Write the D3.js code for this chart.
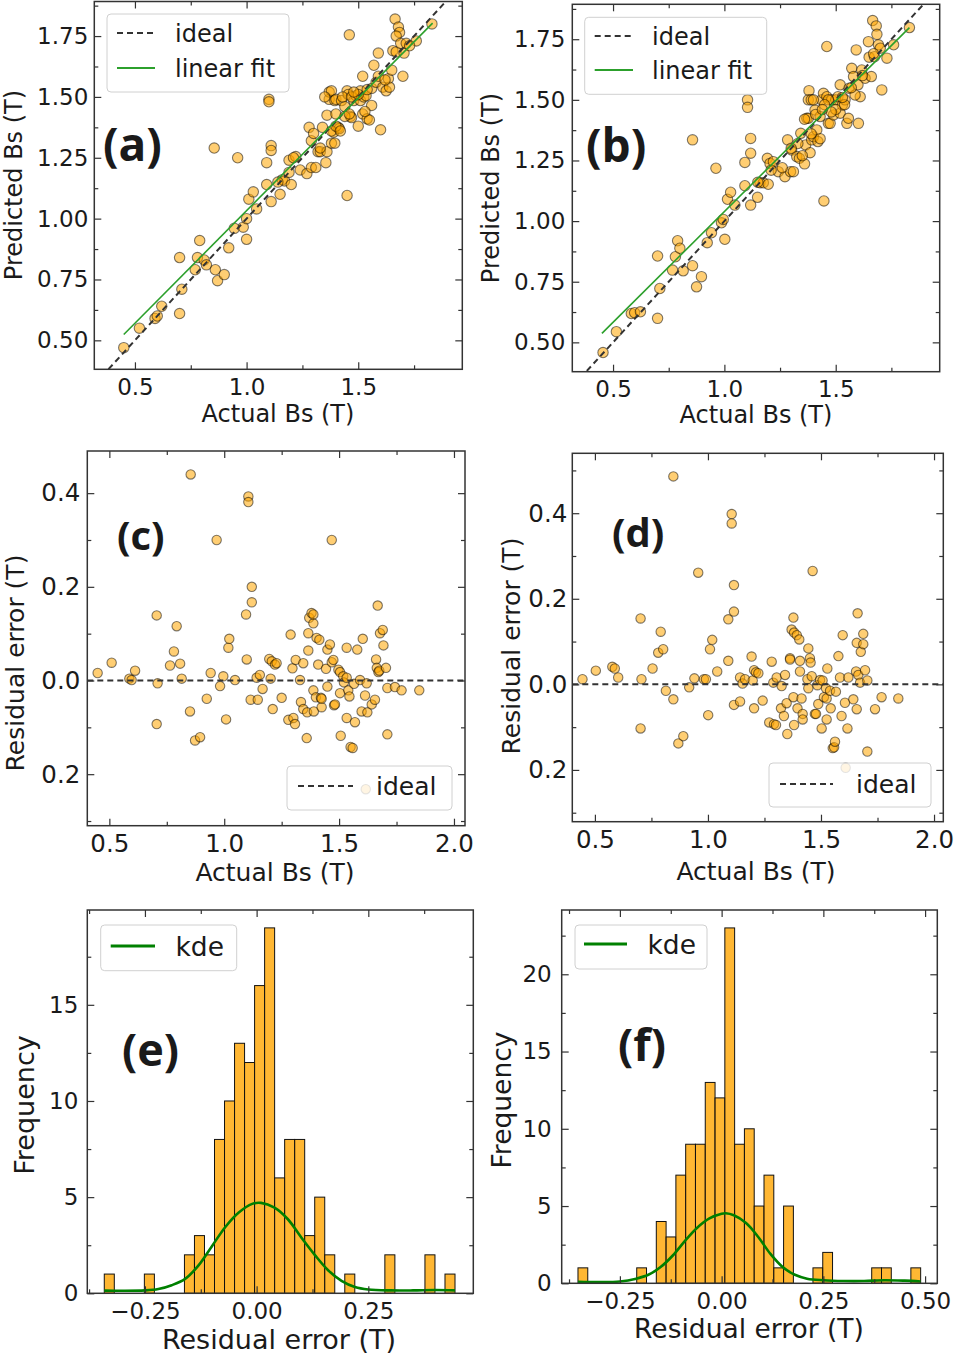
<!DOCTYPE html>
<html><head><meta charset="utf-8">
<script src="https://cdnjs.cloudflare.com/ajax/libs/d3/7.8.5/d3.min.js"></script>
<style>body{margin:0;background:#fff} svg text{font-family:"DejaVu Sans",sans-serif;fill:#1a1a1a}</style>
</head><body><script>
// ---------------- DATA ----------------
// (a) actual vs predicted
const actualA=[0.45,0.52,0.59,0.60,0.62,0.70,0.70,0.71,0.77,0.78,0.79,0.81,0.82,0.855,0.86,0.87,0.90,0.92,0.945,0.96,0.985,1.00,1.00,1.01,1.03,1.045,1.09,1.09,1.10,1.10,1.11,1.11,1.11,1.15,1.16,1.17,1.19,1.20,1.19,1.22,1.24,1.27,1.28,1.29,1.29,1.31,1.30,1.32,1.33,1.34,1.355,1.36,1.36,1.37,1.37,1.38,1.38,1.39,1.395,1.40,1.41,1.415,1.40,1.425,1.44,1.45,1.45,1.455,1.46,1.465,1.47,1.48,1.49,1.50,1.51,1.51,1.52,1.525,1.535,1.54,1.55,1.52,1.56,1.56,1.57,1.58,1.59,1.59,1.60,1.61,1.625,1.635,1.65,1.655,1.665,1.67,1.68,1.685,1.67,1.69,1.70,1.705,1.715,1.76,1.83,1.73,1.395,1.64,1.43,1.47,1.50,1.44,1.46,1.54,1.62,1.38,1.40,1.42,1.35,1.48,1.53,1.33,1.21,1.14];
const predA=[0.47,0.55,0.59,0.60,0.64,0.61,0.84,0.71,0.79,0.84,0.91,0.83,0.81,1.29,0.79,0.745,0.77,0.88,0.96,1.25,0.965,1.00,0.915,1.08,1.11,1.04,1.14,1.23,1.49,1.48,1.30,1.28,1.07,1.10,1.16,1.155,1.24,1.14,1.19,1.255,1.20,1.185,1.375,1.32,1.21,1.21,1.35,1.275,1.275,1.375,1.23,1.275,1.425,1.49,1.52,1.525,1.31,1.355,1.485,1.49,1.375,1.37,1.43,1.485,1.46,1.095,1.525,1.51,1.755,1.42,1.415,1.485,1.505,1.38,1.485,1.525,1.43,1.50,1.505,1.41,1.405,1.585,1.465,1.535,1.63,1.56,1.68,1.585,1.365,1.54,1.525,1.575,1.61,1.69,1.82,1.685,1.787,1.765,1.75,1.72,1.585,1.68,1.72,1.73,1.80,1.71,1.31,1.54,1.50,1.50,1.51,1.42,1.43,1.53,1.57,1.36,1.38,1.36,1.50,1.52,1.44,1.29,1.25,1.15];
const fitXA=[0.45,1.833], fitYA=[0.524,1.803];
// (b) actual vs predicted
const actualB=[0.455,0.515,0.582,0.597,0.623,0.70,0.70,0.71,0.767,0.78,0.79,0.80,0.815,0.857,0.857,0.875,0.897,0.923,0.942,0.962,0.987,0.995,1.002,1.014,1.028,1.047,1.092,1.092,1.104,1.104,1.118,1.118,1.118,1.149,1.16,1.175,1.197,1.193,1.205,1.22,1.242,1.272,1.284,1.297,1.31,1.302,1.325,1.337,1.343,1.36,1.365,1.37,1.38,1.377,1.39,1.385,1.392,1.40,1.407,1.415,1.42,1.43,1.437,1.445,1.447,1.46,1.46,1.467,1.475,1.482,1.49,1.50,1.51,1.52,1.52,1.53,1.542,1.55,1.557,1.56,1.572,1.58,1.592,1.60,1.602,1.61,1.617,1.632,1.647,1.65,1.66,1.666,1.674,1.682,1.685,1.692,1.70,1.707,1.73,1.76,1.831,1.587,1.467,1.377,1.36,1.40,1.45,1.50,1.54,1.43,1.33,1.30,1.21,1.15,1.62,1.67,1.48,1.39,1.53,1.57,1.41,1.35,1.44,1.26];
const predB=[0.458,0.544,0.619,0.622,0.626,0.599,0.856,0.722,0.798,0.853,0.919,0.888,0.795,1.335,0.816,0.729,0.771,0.911,0.952,1.218,0.993,1.007,0.925,1.09,1.119,1.066,1.146,1.242,1.50,1.469,1.341,1.28,1.066,1.098,1.158,1.158,1.152,1.259,1.238,1.245,1.204,1.183,1.335,1.204,1.204,1.293,1.266,1.259,1.362,1.236,1.314,1.424,1.538,1.50,1.50,1.282,1.335,1.348,1.458,1.376,1.328,1.431,1.50,1.527,1.083,1.72,1.513,1.403,1.403,1.50,1.438,1.50,1.513,1.445,1.562,1.479,1.50,1.403,1.424,1.548,1.63,1.596,1.706,1.562,1.403,1.513,1.623,1.589,1.74,1.676,1.596,1.827,1.678,1.805,1.77,1.727,1.713,1.541,1.672,1.727,1.798,1.52,1.50,1.424,1.42,1.50,1.48,1.46,1.48,1.34,1.32,1.30,1.21,1.16,1.60,1.69,1.45,1.36,1.51,1.55,1.44,1.27,1.46,1.22];
const fitXB=[0.45,1.831], fitYB=[0.537,1.798];
// ideal line y = x (x and y endpoints)
const idealLine=[0.2,2.1];
// (c) actual vs residual
const actualC=[0.449,0.51,0.587,0.597,0.612,0.706,0.71,0.706,0.764,0.793,0.781,0.808,0.815,0.851,0.854,0.873,0.895,0.924,0.941,0.967,0.982,0.996,1.008,1.018,1.022,1.047,1.095,1.098,1.105,1.105,1.115,1.12,1.12,1.146,1.141,1.155,1.167,1.196,1.202,1.211,1.207,1.221,1.228,1.25,1.279,1.289,1.297,1.301,1.308,1.311,1.33,1.334,1.344,1.344,1.359,1.361,1.366,1.366,1.37,1.38,1.388,1.388,1.388,1.39,1.399,1.402,1.409,1.414,1.421,1.424,1.424,1.443,1.449,1.449,1.46,1.468,1.468,1.475,1.478,1.482,1.497,1.504,1.504,1.507,1.518,1.521,1.533,1.533,1.533,1.54,1.545,1.55,1.559,1.565,1.569,1.579,1.591,1.598,1.603,1.613,1.62,1.623,1.642,1.656,1.661,1.664,1.668,1.671,1.675,1.678,1.69,1.693,1.704,1.71,1.71,1.743,1.772,1.849,1.616];
const residC=[0.016,0.038,0.004,0.001,0.021,0.139,-0.006,-0.093,0.032,0.116,0.062,0.036,0.004,-0.066,0.44,-0.128,-0.121,-0.039,0.016,0.30,-0.012,0.009,-0.083,0.07,0.089,0.001,0.141,0.045,0.393,0.381,-0.041,0.20,0.167,-0.041,0.006,0.012,-0.018,0.046,0.004,-0.061,0.041,0.034,0.037,-0.037,-0.084,0.098,0.026,-0.08,-0.093,0.044,0.001,-0.046,0.037,-0.061,-0.123,-0.068,0.064,0.101,0.134,0.144,0.122,0.141,-0.021,-0.066,-0.036,0.091,0.034,0.087,-0.037,-0.057,-0.039,0.025,-0.013,0.066,0.077,0.30,0.039,0.044,-0.053,-0.051,0.023,-0.027,0.018,-0.118,0.009,-0.004,-0.08,0.006,0.07,-0.021,-0.034,-0.142,-0.144,-0.007,-0.089,0.066,0.001,-0.066,0.089,-0.032,-0.006,-0.068,-0.051,-0.041,0.045,0.027,0.16,0.018,0.021,0.101,0.108,0.075,0.027,-0.016,-0.115,-0.014,-0.021,-0.021,-0.232];
// (d) actual vs residual
const actualD=[0.445,0.504,0.577,0.588,0.603,0.702,0.706,0.702,0.755,0.78,0.802,0.791,0.814,0.847,0.847,0.869,0.891,0.917,0.94,0.957,0.982,0.991,1.001,1.009,1.019,1.041,1.09,1.09,1.105,1.105,1.115,1.115,1.115,1.142,1.142,1.153,1.164,1.193,1.198,1.204,1.204,1.212,1.223,1.242,1.271,1.282,1.289,1.292,1.301,1.304,1.323,1.326,1.336,1.341,1.351,1.348,1.363,1.363,1.37,1.378,1.381,1.378,1.381,1.393,1.396,1.404,1.407,1.407,1.414,1.419,1.419,1.44,1.444,1.444,1.451,1.454,1.459,1.463,1.473,1.478,1.484,1.488,1.496,1.503,1.507,1.513,1.522,1.525,1.525,1.528,1.54,1.543,1.552,1.558,1.562,1.566,1.577,1.584,1.591,1.596,1.606,1.617,1.621,1.643,1.655,1.658,1.658,1.662,1.665,1.673,1.676,1.687,1.687,1.695,1.705,1.705,1.739,1.768,1.842,1.609];
const residD=[0.012,0.032,0.041,0.037,0.016,0.154,0.012,-0.103,0.037,0.074,0.082,0.123,-0.015,-0.035,0.486,-0.138,-0.121,-0.007,0.014,0.261,0.012,0.012,-0.072,0.082,0.104,0.03,0.055,0.152,0.398,0.376,-0.048,0.232,0.17,0.016,-0.04,0.002,0.012,0.065,0.009,-0.056,0.033,0.028,0.026,-0.038,-0.089,0.053,0.004,-0.093,-0.095,0.016,-0.056,-0.004,-0.074,0.022,-0.116,-0.044,0.061,0.058,0.128,0.156,0.121,-0.03,-0.095,0.115,-0.056,0.105,0.055,0.03,-0.033,-0.069,-0.082,0.012,0.084,-0.009,0.061,0.051,0.019,0.265,-0.069,-0.069,-0.002,-0.046,0.01,-0.103,0.009,-0.03,-0.009,-0.033,-0.082,0.037,-0.015,-0.056,-0.149,-0.147,-0.134,-0.017,0.066,0.016,-0.074,0.115,-0.043,-0.103,0.016,-0.035,0.03,0.097,-0.058,0.166,0.022,0.004,0.076,0.094,0.118,0.033,0.009,-0.157,-0.058,-0.03,-0.033,-0.195];
const idealResid=0;
// (e) histogram of residuals + kde
const histEStart=-0.341, histEWidth=0.02243;
const histECounts=[1,0,0,0,1,0,0,0,2,3,2,8,10,13,12,16,19,6,8,8,3,5,2,0,1,0,0,0,2,0,0,0,2,0,1];
const kdeEX=[-0.341,-0.30,-0.25,-0.22,-0.19,-0.16,-0.13,-0.10,-0.07,-0.04,-0.01,0.01,0.04,0.07,0.10,0.13,0.16,0.19,0.22,0.25,0.30,0.35,0.40,0.444];
const kdeEY=[0.14,0.13,0.15,0.22,0.42,0.75,1.45,2.45,3.45,4.2,4.65,4.7,4.45,3.85,2.9,2.0,1.2,0.65,0.33,0.2,0.15,0.15,0.17,0.15];
// (f)
const histFStart=-0.353, histFWidth=0.02406;
const histFCounts=[1,0,0,0,0,0,1,0,4,3,7,9,9,13,12,23,9,10,5,7,1,5,0,0,1,2,0,0,0,0,1,1,0,0,1];
const kdeFX=[-0.353,-0.30,-0.25,-0.21,-0.18,-0.15,-0.12,-0.09,-0.06,-0.03,0.0,0.01,0.03,0.06,0.09,0.12,0.15,0.18,0.21,0.25,0.30,0.35,0.40,0.45,0.489];
const kdeFY=[0.1,0.08,0.12,0.3,0.55,1.05,1.8,2.75,3.6,4.2,4.5,4.53,4.4,3.9,3.0,1.9,1.05,0.55,0.3,0.2,0.15,0.15,0.2,0.17,0.12];
// tick values / labels
const bsTicks=[0.5,1.0,1.5], bsTickLabels=["0.5","1.0","1.5"], bsMinor=[0.75,1.25,1.75];
const predTicks=[0.5,0.75,1.0,1.25,1.5,1.75], predTickLabels=["0.50","0.75","1.00","1.25","1.50","1.75"], predMinor=[0.625,0.875,1.125,1.375,1.625,1.875];
const bs2Ticks=[0.5,1.0,1.5,2.0], bs2TickLabels=["0.5","1.0","1.5","2.0"], bs2Minor=[0.75,1.25,1.75];
const resTicks=[-0.2,0.0,0.2,0.4], resTickLabels=["0.2","0.0","0.2","0.4"], resMinor=[-0.3,-0.1,0.1,0.3,0.5];
const errTicksE=[-0.25,0,0.25], errTickLabelsE=["\u22120.25","0.00","0.25"], errMinorE=[-0.375,-0.125,0.125,0.375];
const errTicksF=[-0.25,0,0.25,0.5], errTickLabelsF=["\u22120.25","0.00","0.25","0.50"], errMinorF=[-0.375,-0.125,0.125,0.375];
const freqTicksE=[0,5,10,15], freqTickLabelsE=["0","5","10","15"], freqMinorE=[2.5,7.5,12.5,17.5];
const freqTicksF=[0,5,10,15,20], freqTickLabelsF=["0","5","10","15","20"], freqMinorF=[2.5,7.5,12.5,17.5,22.5];

// ---------------- DRAW ----------------
const svg=d3.select("body").append("svg").attr("width",957).attr("height",1355);
const FRAME="#333";
let clipN=0;
function makePanel(c){
  const x=d3.scaleLinear().domain(c.xd).range([c.l,c.r]);
  const y=d3.scaleLinear().domain(c.yd).range([c.b,c.t]);
  const id="clip"+(clipN++);
  svg.append("clipPath").attr("id",id).append("rect").attr("x",c.l).attr("y",c.t).attr("width",c.r-c.l).attr("height",c.b-c.t);
  const g=svg.append("g");
  const plot=g.append("g").attr("clip-path",`url(#${id})`);
  return {c,x,y,g,plot};
}
function styleAxis(s,fs){
  s.select(".domain").remove();
  s.attr("font-size",fs).attr("font-family","DejaVu Sans");
  s.selectAll("line").attr("stroke",FRAME).attr("stroke-width",1.2);
  s.selectAll("text").attr("fill","#1a1a1a");
}
function axes(p,o){
  const {c,x,y,g}=p, MJ=7, MN=4;
  const ag=g.append("g");
  const xm=o.xm.filter(v=>v>=c.xd[0]&&v<=c.xd[1]), ym=o.ym.filter(v=>v>=c.yd[0]&&v<=c.yd[1]);
  ag.append("g").attr("transform",`translate(0,${c.b})`).call(d3.axisBottom(x).tickValues(o.xt).tickFormat((d,i)=>o.xtl[i]).tickSize(-MJ).tickPadding(o.xpad)).call(s=>styleAxis(s,o.fs));
  ag.append("g").attr("transform",`translate(0,${c.b})`).call(d3.axisBottom(x).tickValues(xm).tickFormat("").tickSize(-MN)).call(s=>styleAxis(s,o.fs));
  ag.append("g").attr("transform",`translate(0,${c.t})`).call(d3.axisTop(x).tickValues(o.xt).tickFormat("").tickSize(-MJ)).call(s=>styleAxis(s,o.fs));
  ag.append("g").attr("transform",`translate(0,${c.t})`).call(d3.axisTop(x).tickValues(xm).tickFormat("").tickSize(-MN)).call(s=>styleAxis(s,o.fs));
  ag.append("g").attr("transform",`translate(${c.l},0)`).call(d3.axisLeft(y).tickValues(o.yt).tickFormat((d,i)=>o.ytl[i]).tickSize(-MJ).tickPadding(o.ypad)).call(s=>styleAxis(s,o.fs));
  ag.append("g").attr("transform",`translate(${c.l},0)`).call(d3.axisLeft(y).tickValues(ym).tickFormat("").tickSize(-MN)).call(s=>styleAxis(s,o.fs));
  ag.append("g").attr("transform",`translate(${c.r},0)`).call(d3.axisRight(y).tickValues(o.yt).tickFormat("").tickSize(-MJ)).call(s=>styleAxis(s,o.fs));
  ag.append("g").attr("transform",`translate(${c.r},0)`).call(d3.axisRight(y).tickValues(ym).tickFormat("").tickSize(-MN)).call(s=>styleAxis(s,o.fs));
  g.append("rect").attr("x",c.l).attr("y",c.t).attr("width",c.r-c.l).attr("height",c.b-c.t).attr("fill","none").attr("stroke",FRAME).attr("stroke-width",1.5);
  g.append("text").attr("x",o.xl[0]).attr("y",o.xl[1]).attr("text-anchor","middle").attr("font-size",o.lfs).text(o.xlab);
  g.append("text").attr("transform",`translate(${o.yl[0]},${o.yl[1]}) rotate(-90)`).attr("dy","0.35em").attr("text-anchor","middle").attr("font-size",o.lfs).text(o.ylab);
  g.append("text").attr("x",o.tag[0]).attr("y",o.tag[1]).attr("font-size",o.tfs).attr("font-weight",700).style("font-family","'Open Sans',sans-serif").text(o.tagText);
}
function scatter(p,xs,ys,r){
  p.plot.append("g").selectAll("circle").data(d3.zip(xs,ys)).join("circle")
    .attr("cx",d=>p.x(d[0])).attr("cy",d=>p.y(d[1])).attr("r",r)
    .attr("fill","#FFA500").attr("fill-opacity",0.55).attr("stroke","#000").attr("stroke-opacity",0.5).attr("stroke-width",1.1);
}
function legend(p,box,items,fs){
  const g=p.g.append("g");
  g.append("rect").attr("x",box[0]).attr("y",box[1]).attr("width",box[2]-box[0]).attr("height",box[3]-box[1]).attr("rx",4)
    .attr("fill","#fff").attr("fill-opacity",0.8).attr("stroke","#d0d0d0").attr("stroke-width",1);
  items.forEach(it=>{
    const l=g.append("line").attr("x1",it.x1).attr("x2",it.x2).attr("y1",it.y).attr("y2",it.y).attr("stroke",it.color).attr("stroke-width",it.w);
    if(it.dash) l.attr("stroke-dasharray",it.dash);
    g.append("text").attr("x",it.tx).attr("y",it.y).attr("dy","0.36em").attr("font-size",fs).text(it.label);
  });
}
const FITG="#2ca02c", KDEG="#008000";

// ---- (a) ----
const pA=makePanel({l:94.3,r:462.3,t:1.5,b:369.3,xd:[0.318,1.966],yd:[0.381,1.892]});
scatter(pA,actualA,predA,5.2);
pA.plot.append("line").attr("x1",pA.x(idealLine[0])).attr("y1",pA.y(idealLine[0])).attr("x2",pA.x(idealLine[1])).attr("y2",pA.y(idealLine[1])).attr("stroke","#333").attr("stroke-width",2).attr("stroke-dasharray","6,4");
pA.plot.append("path").datum(d3.zip(fitXA,fitYA)).attr("d",d3.line().x(d=>pA.x(d[0])).y(d=>pA.y(d[1]))).attr("stroke",FITG).attr("stroke-width",1.6).attr("fill","none");
axes(pA,{xt:bsTicks,xtl:bsTickLabels,xm:bsMinor,yt:predTicks,ytl:predTickLabels,ym:predMinor,fs:23,xpad:9,ypad:6,lfs:24,
  xl:[278,422],yl:[14,185],xlab:"Actual Bs (T)",ylab:"Predicted Bs (T)",tag:[103,161],tfs:46,tagText:"(a)"});
legend(pA,[107,14,289,92],[{x1:117,x2:155,y:33,color:"#333",w:2,dash:"6,4",tx:175,label:"ideal"},{x1:117,x2:155,y:68,color:FITG,w:1.8,tx:175,label:"linear fit"}],24);

// ---- (b) ----
const pB=makePanel({l:572.3,r:939.7,t:4.3,b:371.7,xd:[0.317,1.967],yd:[0.379,1.894]});
scatter(pB,actualB,predB,5.2);
pB.plot.append("line").attr("x1",pB.x(idealLine[0])).attr("y1",pB.y(idealLine[0])).attr("x2",pB.x(idealLine[1])).attr("y2",pB.y(idealLine[1])).attr("stroke","#333").attr("stroke-width",2).attr("stroke-dasharray","6,4");
pB.plot.append("path").datum(d3.zip(fitXB,fitYB)).attr("d",d3.line().x(d=>pB.x(d[0])).y(d=>pB.y(d[1]))).attr("stroke",FITG).attr("stroke-width",1.6).attr("fill","none");
axes(pB,{xt:bsTicks,xtl:bsTickLabels,xm:bsMinor,yt:predTicks,ytl:predTickLabels,ym:predMinor,fs:23,xpad:9,ypad:7,lfs:24,
  xl:[756,423],yl:[491,188],xlab:"Actual Bs (T)",ylab:"Predicted Bs (T)",tag:[586,162],tfs:46,tagText:"(b)"});
legend(pB,[584.7,17.3,766.7,94.3],[{x1:594.7,x2:633,y:36,color:"#333",w:2,dash:"6,4",tx:652,label:"ideal"},{x1:594.7,x2:633,y:70,color:FITG,w:1.8,tx:652,label:"linear fit"}],24);

// ---- (c) ----
const pC=makePanel({l:87.3,r:465,t:451,b:825.7,xd:[0.404,2.048],yd:[-0.31,0.49]});
scatter(pC,actualC,residC,4.7);
pC.plot.append("line").attr("x1",pC.c.l).attr("x2",pC.c.r).attr("y1",pC.y(idealResid)).attr("y2",pC.y(idealResid)).attr("stroke","#333").attr("stroke-width",2).attr("stroke-dasharray","6,4");
axes(pC,{xt:bs2Ticks,xtl:bs2TickLabels,xm:bs2Minor,yt:resTicks,ytl:resTickLabels,ym:resMinor,fs:24.5,xpad:9,ypad:7,lfs:25,
  xl:[275,881],yl:[15,663],xlab:"Actual Bs (T)",ylab:"Residual error (T)",tag:[117,550],tfs:40,tagText:"(c)"});
legend(pC,[287,766,452,810],[{x1:298,x2:353,y:786,color:"#333",w:2,dash:"6,4",tx:376,label:"ideal"}],25);

// ---- (d) ----
const pD=makePanel({l:572.3,r:943.3,t:453.3,b:821.7,xd:[0.4,2.041],yd:[-0.321,0.54]});
scatter(pD,actualD,residD,4.7);
pD.plot.append("line").attr("x1",pD.c.l).attr("x2",pD.c.r).attr("y1",pD.y(idealResid)).attr("y2",pD.y(idealResid)).attr("stroke","#333").attr("stroke-width",2).attr("stroke-dasharray","6,4");
axes(pD,{xt:bs2Ticks,xtl:bs2TickLabels,xm:bs2Minor,yt:resTicks,ytl:resTickLabels,ym:resMinor,fs:24.5,xpad:9,ypad:5,lfs:25,
  xl:[756,880],yl:[511,646],xlab:"Actual Bs (T)",ylab:"Residual error (T)",tag:[612,547],tfs:40,tagText:"(d)"});
legend(pD,[769,763,931,807],[{x1:780,x2:833,y:784,color:"#333",w:2,dash:"6,4",tx:856,label:"ideal"}],25);

// ---- histograms ----
function hist(p,start,w,counts){
  const bins=counts.map((c,i)=>({x0:start+i*w,x1:start+(i+1)*w,c})).filter(d=>d.c>0);
  p.plot.append("g").selectAll("rect").data(bins).join("rect")
    .attr("x",d=>p.x(d.x0)).attr("width",d=>p.x(d.x1)-p.x(d.x0))
    .attr("y",d=>p.y(d.c)).attr("height",d=>p.y(0)-p.y(d.c))
    .attr("fill","#FFA500").attr("fill-opacity",0.8).attr("stroke","#111").attr("stroke-width",1);
}
function kde(p,xs,ys){
  p.plot.append("path").datum(d3.zip(xs,ys)).attr("d",d3.line().x(d=>p.x(d[0])).y(d=>p.y(d[1])).curve(d3.curveCatmullRom))
    .attr("fill","none").attr("stroke",KDEG).attr("stroke-width",2.6);
}
const pE=makePanel({l:87.3,r:473.3,t:910,b:1293.3,xd:[-0.379,0.485],yd:[0,19.93]});
hist(pE,histEStart,histEWidth,histECounts);
kde(pE,kdeEX,kdeEY);
axes(pE,{xt:errTicksE,xtl:errTickLabelsE,xm:errMinorE,yt:freqTicksE,ytl:freqTickLabelsE,ym:freqMinorE,fs:23,xpad:9,ypad:9,lfs:27,
  xl:[279,1349],yl:[25,1105],xlab:"Residual error (T)",ylab:"Frequency",tag:[122,1066],tfs:45,tagText:"(e)"});
legend(pE,[100.7,925,236.7,970.7],[{x1:110.7,x2:155,y:946,color:KDEG,w:3,tx:175.5,label:"kde"}],26.5);

const pF=makePanel({l:561.7,r:937.3,t:910,b:1283.3,xd:[-0.393,0.53],yd:[0,24.16]});
hist(pF,histFStart,histFWidth,histFCounts);
kde(pF,kdeFX,kdeFY);
axes(pF,{xt:errTicksF,xtl:errTickLabelsF,xm:errMinorF,yt:freqTicksF,ytl:freqTickLabelsF,ym:freqMinorF,fs:23,xpad:9,ypad:10,lfs:26.5,
  xl:[749,1338],yl:[502,1100],xlab:"Residual error (T)",ylab:"Frequency",tag:[618,1061],tfs:45,tagText:"(f)"});
legend(pF,[575,925,707,969],[{x1:584,x2:627,y:944,color:KDEG,w:3,tx:647.5,label:"kde"}],26.5);
</script></body></html>
